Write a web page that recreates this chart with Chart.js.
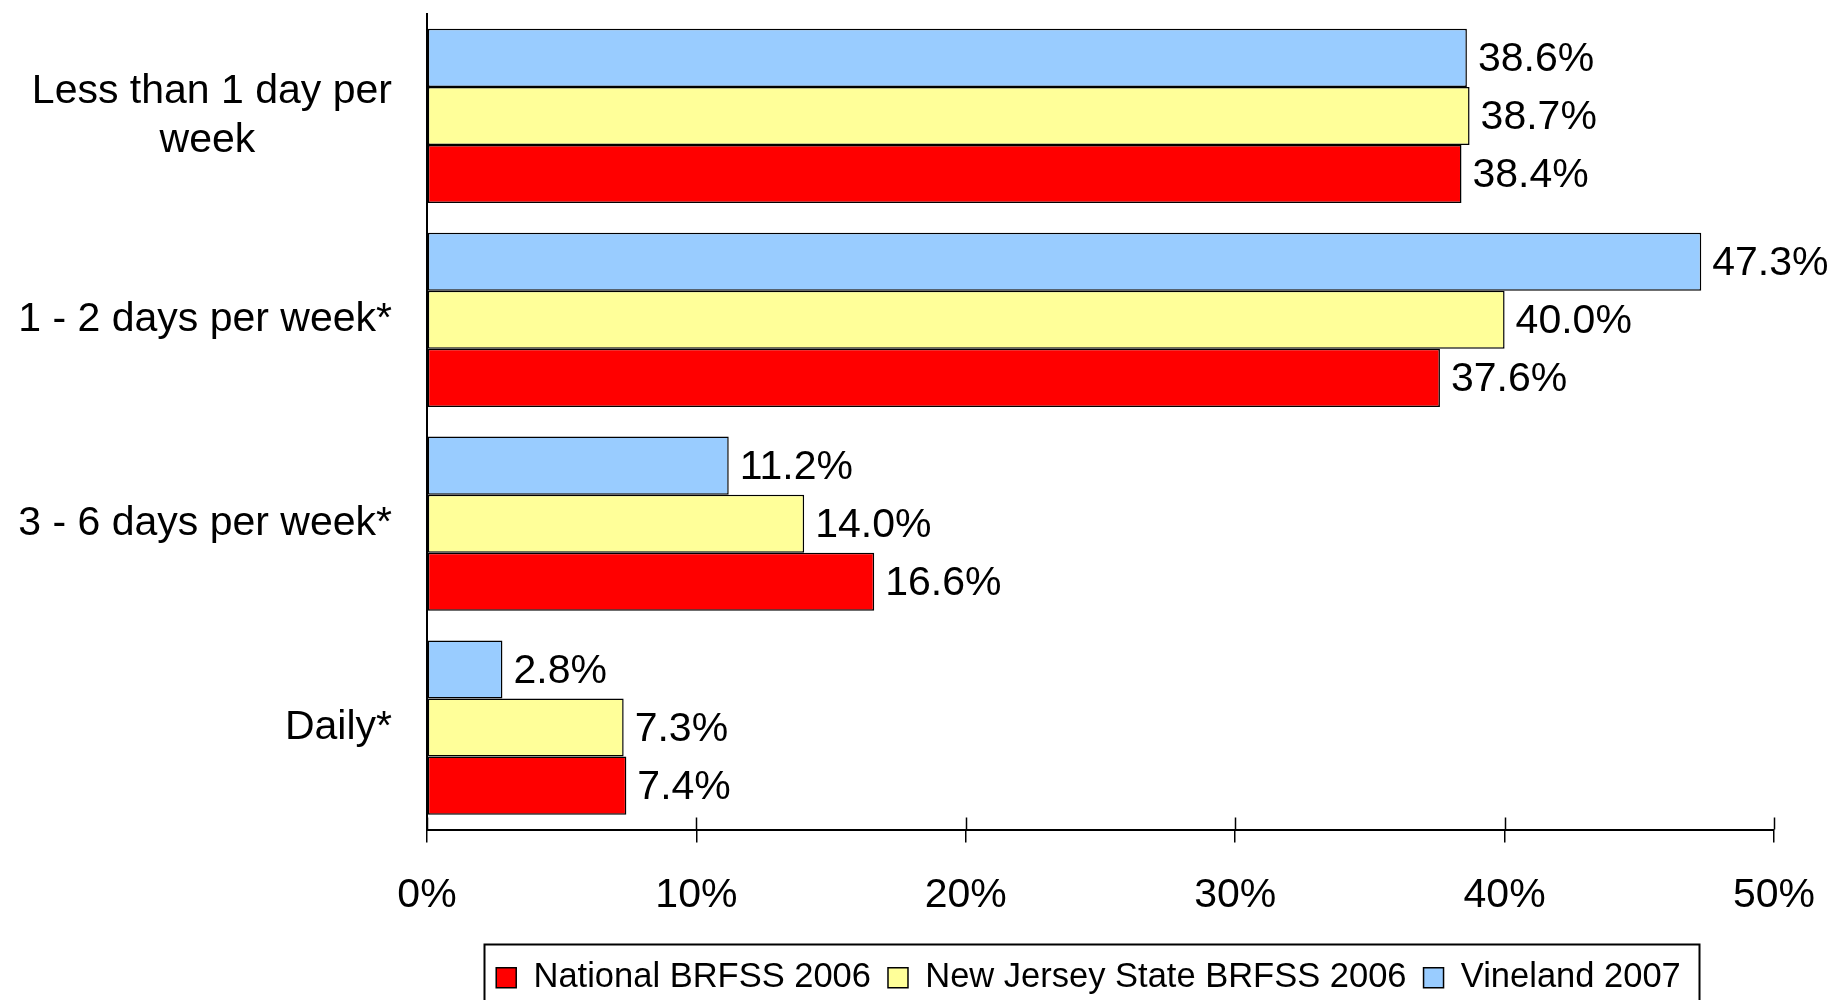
<!DOCTYPE html>
<html>
<head>
<meta charset="utf-8">
<script src="https://cdn.jsdelivr.net/npm/chart.js@4/dist/chart.umd.min.js"></script>
<style>
html,body{margin:0;padding:0;background:#fff;}
#wrap{width:1835px;height:1000px;}
</style>
</head>
<body>
<div id="wrap"><canvas id="c" width="1835" height="1000"></canvas></div>
<script>
const categories = [['Less than 1 day per','week'], '1 - 2 days per week*', '3 - 6 days per week*', 'Daily*'];
const vineland2007 = [38.6, 47.3, 11.2, 2.8];
const newJersey2006 = [38.7, 40.0, 14.0, 7.3];
const national2006 = [38.4, 37.6, 16.6, 7.4];
const xTicks = [0, 10, 20, 30, 40, 50];

const FONT = '"Liberation Sans", Arial, sans-serif';

const measureCtx = document.createElement('canvas').getContext('2d');
measureCtx.font = '41px ' + FONT;
function centerLines(lines) {
  const widths = lines.map(l => measureCtx.measureText(l).width);
  const maxW = Math.max(...widths);
  const sp = measureCtx.measureText(' ').width;
  return lines.map((l, i) => l + ' '.repeat(Math.round((maxW - widths[i]) / 2 / sp)));
}

const valueLabels = {
  id: 'valueLabels',
  afterDatasetsDraw(chart) {
    const ctx = chart.ctx;
    ctx.save();
    ctx.font = '41px ' + FONT;
    ctx.fillStyle = '#000';
    ctx.textAlign = 'left';
    ctx.textBaseline = 'middle';
    chart.data.datasets.forEach((ds, di) => {
      const meta = chart.getDatasetMeta(di);
      meta.data.forEach((el, i) => {
        ctx.fillText(ds.data[i].toFixed(1) + '%', el.x + 11, el.y + 2);
      });
    });
    ctx.restore();
  }
};

const legendShift = {
  id: 'legendShift',
  afterLayout(chart) {
    const lg = chart.legend;
    if (lg) { lg.left -= 12; lg.right -= 12; }
  }
};

const innerTicks = {
  id: 'innerTicks',
  afterDraw(chart) {
    const ctx = chart.ctx;
    const xs = chart.scales.x;
    ctx.save();
    ctx.strokeStyle = '#000';
    ctx.lineWidth = 1.5;
    xTicks.forEach(v => {
      const px = Math.round(xs.getPixelForValue(v)) + 0.5;
      ctx.beginPath();
      ctx.moveTo(px, chart.chartArea.bottom - 12);
      ctx.lineTo(px, chart.chartArea.bottom);
      ctx.stroke();
    });
    const lg = chart.legend;
    if (lg && lg.legendHitBoxes && lg.legendHitBoxes.length) {
      const hb = lg.legendHitBoxes;
      const l = Math.min(...hb.map(h => h.left)) - 12;
      const r = Math.max(...hb.map(h => h.left + h.width)) + 18;
      const t = Math.min(...hb.map(h => h.top)) - 17;
      ctx.lineWidth = 2;
      ctx.strokeRect(Math.round(l) + 0.5, Math.round(t) + 0.5, Math.round(r - l), 1000 - t + 10);
    }
    ctx.restore();
  }
};

new Chart(document.getElementById('c'), {
  type: 'bar',
  data: {
    labels: categories,
    datasets: [
      { label: 'Vineland 2007', data: vineland2007, backgroundColor: '#99CCFF', borderColor: '#000', borderWidth: 1.5, borderSkipped: false },
      { label: 'New Jersey State BRFSS 2006', data: newJersey2006, backgroundColor: '#FFFF99', borderColor: '#000', borderWidth: 1.5, borderSkipped: false },
      { label: 'National BRFSS 2006', data: national2006, backgroundColor: '#FF0000', borderColor: '#000', borderWidth: 1.5, borderSkipped: false }
    ]
  },
  options: {
    indexAxis: 'y',
    responsive: false,
    animation: false,
    devicePixelRatio: 1,
    layout: { padding: { top: 14, right: 61, left: 0, bottom: -5 } },
    datasets: { bar: { categoryPercentage: 0.855, barPercentage: 1.0 } },
    scales: {
      x: {
        min: 0, max: 50,
        afterBuildTicks: s => { s.ticks = xTicks.map(v => ({ value: v })); },
        afterFit: s => { s.height = 114; s.paddingLeft = 0; s.paddingRight = 0; },
        ticks: {
          callback: v => v + '%',
          color: '#000',
          font: { family: FONT, size: 41, lineHeight: 0.9 },
          padding: 35,
          maxRotation: 0
        },
        grid: { drawOnChartArea: false, drawTicks: true, tickLength: 13, color: '#000', lineWidth: 1.5 },
        border: { display: true, color: '#000', width: 2 }
      },
      y: {
        afterFit: s => { s.width = 427; s.paddingTop = 0; s.paddingBottom = 0; },
        ticks: {
          callback: function(v, i) {
            const lab = categories[i];
            return Array.isArray(lab) ? centerLines(lab) : lab;
          },
          color: '#000',
          font: { family: FONT, size: 41, lineHeight: 1.2 },
          padding: 35,
          crossAlign: 'near'
        },
        grid: { display: false, drawTicks: false },
        border: { display: true, color: '#000', width: 2 }
      }
    },
    plugins: {
      legend: {
        position: 'bottom',
        fullSize: false,
        reverse: true,
        labels: {
          color: '#000',
          font: { family: FONT, size: 34.5 },
          boxWidth: 20,
          boxHeight: 20,
          padding: 17
        }
      },
      tooltip: { enabled: false },
      title: { display: false }
    }
  },
  plugins: [legendShift, valueLabels, innerTicks]
});
</script>
</body>
</html>
